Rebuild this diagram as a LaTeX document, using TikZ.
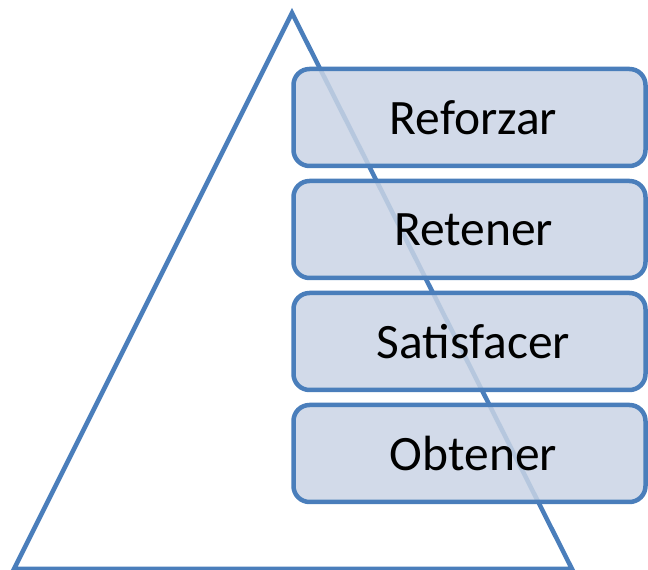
\documentclass[tikz,border=0pt]{standalone}
\usepackage{fontspec}
\setmainfont{Carlito}
\definecolor{edge}{HTML}{4A7EBB}
\definecolor{boxfill}{HTML}{CAD4E5}
\tikzset{
  stagebox/.style={draw=edge, line width=4.5pt, rounded corners=16pt, fill=boxfill, fill opacity=0.85, text opacity=1, minimum width=352pt, minimum height=97pt, inner sep=0pt, font=\fontsize{49.5}{54}\selectfont, text=black},
  tri/.style={draw=edge, line width=4.5pt, line join=miter}
}
\begin{document}
\begin{tikzpicture}[x=1pt,y=1pt]
\useasboundingbox (0,0) rectangle (648,570);
\coordinate (apex) at (292,557);
\coordinate (bl) at (14,1);
\coordinate (br) at (572,1);
\draw[tri] (bl) -- (apex) -- (br) -- cycle;
\node[stagebox] (b1) at (469.5,452.5) {\hspace*{8pt}Reforzar};
\node[stagebox] (b2) at (469.5,340.5) {\hspace*{8pt}Retener};
\node[stagebox] (b3) at (469.5,228.5) {\hspace*{8pt}Satisfacer};
\node[stagebox] (b4) at (469.5,116.5) {\hspace*{8pt}Obtener};
\end{tikzpicture}
\end{document}
